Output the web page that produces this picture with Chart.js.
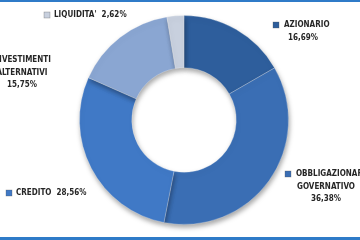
<!DOCTYPE html>
<html>
<head>
<meta charset="utf-8">
<script src="https://cdn.jsdelivr.net/npm/chart.js@4"></script>
<style>
  html, body { margin: 0; padding: 0; background: #fff; }
  #wrap { width: 360px; height: 240px; position: relative; }
</style>
</head>
<body>
<div id="wrap"><canvas id="myChart" width="360" height="240"></canvas></div>
<script>
(() => {
  'use strict'

// categories and values (percent), clockwise from 12 o'clock
var categories = ['AZIONARIO', 'OBBLIGAZIONARIO GOVERNATIVO', 'CREDITO', 'INVESTIMENTI ALTERNATIVI', "LIQUIDITA'"];
var values = [16.69, 36.38, 28.56, 15.75, 2.62];
var valueLabels = ['16,69%', '36,38%', '28,56%', '15,75%', '2,62%'];
var colors = ['#2E5E9C', '#3A6EB4', '#4079C6', '#8AA6D2', '#C8D0DE'];

// label layout: anchor x/y, alignment, lines
var labelLayout = [
  { x: 276, y: 25, square: true, lines: ['AZIONARIO', '16,69%'], cx: 303 },
  { x: 288, y: 174, square: true, lines: ['OBBLIGAZIONARIO', 'GOVERNATIVO', '36,38%'], cx: 326 },
  { x: 9, y: 193, square: true, inline: true, lines: ['CREDITO  28,56%'] },
  { x: -20, y: 60, square: false, lines: ['INVESTIMENTI', 'ALTERNATIVI', '15,75%'], cx: 22 },
  { x: 47, y: 15, square: true, inline: true, lines: ["LIQUIDITA'  2,62%"] }
];

var ctx = document.getElementById('myChart').getContext('2d');

var labelsPlugin = {
  id: 'sliceLabels',
  beforeDatasetsDraw: function (chart) {
    var c = chart.ctx;
    c.save();
    c.shadowColor = 'rgba(0,0,0,0.35)';
    c.shadowBlur = 5;
    c.shadowOffsetX = 1;
    c.shadowOffsetY = 3;
  },
  afterDatasetsDraw: function (chart) {
    chart.ctx.restore();
  },
  afterDraw: function (chart) {
    var c = chart.ctx;
    c.save();
    // blue frame lines top and bottom
    c.fillStyle = '#2F7BC8';
    c.fillRect(0, 0, 360, 2);
    c.fillRect(0, 237, 360, 3);

    c.font = 'bold 8px "Liberation Sans Narrow", "DejaVu Sans Condensed", sans-serif';
    c.fillStyle = '#262626';
    c.textBaseline = 'middle';
    labelLayout.forEach(function (l, i) {
      if (l.square) {
        c.fillStyle = colors[i];
        c.fillRect(l.x - 3, l.y - 3, 6, 6);
        c.strokeStyle = 'rgba(80,80,80,0.6)';
        c.lineWidth = 0.5;
        c.strokeRect(l.x - 3, l.y - 3, 6, 6);
        c.fillStyle = '#262626';
      }
      if (l.inline) {
        c.textAlign = 'left';
        c.fillText(l.lines[0], l.x + 7, l.y);
      } else {
        l.lines.forEach(function (t, j) {
          if (j === 0 && l.square) {
            c.textAlign = 'left';
            c.fillText(t, l.x + 8, l.y);
          } else {
            c.textAlign = 'center';
            c.fillText(t, l.cx, l.y + j * 12.5);
          }
        });
      }
    });
    c.restore();
  }
};

var data = {
  labels: categories,
  datasets: [{
    data: values,
    backgroundColor: colors,
    borderColor: 'rgba(255,255,255,0.25)',
    borderWidth: 1
  }]
};

var options = {
  responsive: false,
  animation: false,
  cutout: '50%',
  layout: { padding: { top: 15, bottom: 15, left: 79, right: 71 } },
  plugins: {
    legend: { display: false },
    tooltip: { enabled: false }
  }
};

var myChart = new Chart(ctx, {
  type: 'doughnut',
  data: data,
  options: options,
  plugins: [labelsPlugin]
})
})()
</script>
</body>
</html>
